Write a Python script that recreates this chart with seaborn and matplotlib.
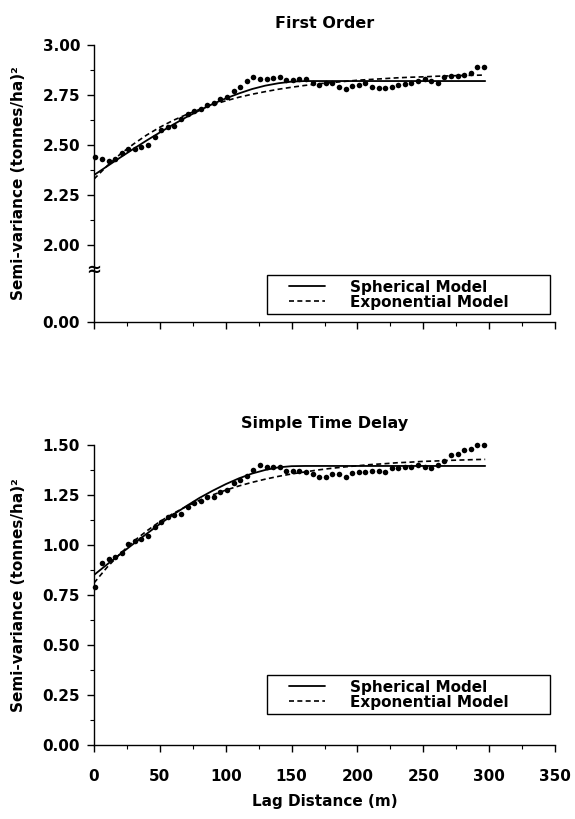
import matplotlib
matplotlib.use("Agg")
import matplotlib.pyplot as plt
from matplotlib.lines import Line2D
from matplotlib.legend_handler import HandlerLine2D
import matplotlib.transforms as mtransforms
import seaborn as sns

# lag distances of the experimental semi-variogram (m)
lag = [1, 6, 11, 16, 21, 26, 31, 36, 41, 46,
       51, 56, 61, 66, 71, 76, 81, 86, 91, 96,
       101, 106, 111, 116, 121, 126, 131, 136, 141, 146,
       151, 156, 161, 166, 171, 176, 181, 186, 191, 196,
       201, 206, 211, 216, 221, 226, 231, 236, 241, 246,
       251, 256, 261, 266, 271, 276, 281, 286, 291, 296]

# First Order - experimental semi-variance
first_order = [2.44, 2.43, 2.42, 2.43, 2.46, 2.48, 2.48, 2.49, 2.50, 2.54,
               2.575, 2.59, 2.595, 2.63, 2.655, 2.67, 2.68, 2.70, 2.71, 2.73,
               2.74, 2.77, 2.79, 2.82, 2.84, 2.83, 2.83, 2.835, 2.84, 2.825,
               2.825, 2.83, 2.83, 2.81, 2.80, 2.81, 2.81, 2.79, 2.78, 2.795,
               2.80, 2.81, 2.79, 2.785, 2.785, 2.79, 2.80, 2.805, 2.81, 2.82,
               2.83, 2.82, 2.81, 2.84, 2.845, 2.845, 2.85, 2.86, 2.89, 2.89]

# Simple Time Delay - experimental semi-variance
time_delay = [0.79, 0.91, 0.93, 0.94, 0.96, 1.005, 1.02, 1.03, 1.045, 1.09,
              1.115, 1.14, 1.15, 1.155, 1.19, 1.21, 1.22, 1.24, 1.24, 1.265,
              1.275, 1.31, 1.325, 1.345, 1.375, 1.40, 1.39, 1.39, 1.39, 1.37,
              1.37, 1.37, 1.365, 1.355, 1.342, 1.34, 1.355, 1.355, 1.342, 1.36,
              1.367, 1.367, 1.37, 1.37, 1.367, 1.383, 1.383, 1.39, 1.39, 1.40,
              1.39, 1.383, 1.40, 1.42, 1.45, 1.455, 1.475, 1.48, 1.50, 1.50]

# fitted model curves
model_lag = [0, 10, 20, 30, 40, 50, 60, 70, 80, 90,
             100, 110, 120, 130, 140, 150, 160, 170, 180, 190,
             200, 210, 220, 230, 240, 250, 260, 270, 280, 290, 297]
fo_spherical = [2.35, 2.394, 2.438, 2.481, 2.523, 2.563, 2.602, 2.639, 2.673, 2.705,
                2.733, 2.758, 2.780, 2.797, 2.809, 2.817, 2.82, 2.82, 2.82, 2.82,
                2.82, 2.82, 2.82, 2.82, 2.82, 2.82, 2.82, 2.82, 2.82, 2.82, 2.82]
fo_exponential = [2.33, 2.396, 2.455, 2.505, 2.550, 2.589, 2.623, 2.652, 2.678, 2.701,
                  2.721, 2.739, 2.754, 2.767, 2.779, 2.789, 2.798, 2.806, 2.812, 2.818,
                  2.824, 2.828, 2.832, 2.836, 2.839, 2.841, 2.844, 2.846, 2.848, 2.849, 2.850]
td_spherical = [0.85, 0.903, 0.955, 1.006, 1.056, 1.105, 1.151, 1.194, 1.235, 1.271,
                1.304, 1.333, 1.357, 1.375, 1.388, 1.394, 1.395, 1.395, 1.395, 1.395,
                1.395, 1.395, 1.395, 1.395, 1.395, 1.395, 1.395, 1.395, 1.395, 1.395, 1.395]
td_exponential = [0.81, 0.889, 0.957, 1.018, 1.070, 1.117, 1.157, 1.192, 1.223, 1.250,
                  1.274, 1.295, 1.313, 1.329, 1.343, 1.355, 1.365, 1.375, 1.383, 1.390,
                  1.396, 1.402, 1.406, 1.411, 1.414, 1.418, 1.420, 1.423, 1.425, 1.427, 1.428]

x_ticks = [0, 50, 100, 150, 200, 250, 300, 350]
x_minor = [25, 75, 125, 175, 225, 275, 325]
top_ticks = [2.00, 2.25, 2.50, 2.75, 3.00]
top_minor = [2.125, 2.375, 2.625, 2.875]
top_zero = 1.615      # where the "0.00" of the broken axis sits
top_break = 1.875
bot_ticks = [0.00, 0.25, 0.50, 0.75, 1.00, 1.25, 1.50]
bot_minor = [0.125, 0.375, 0.625, 0.875, 1.125, 1.375]

sns.set_theme(style="ticks")
plt.rcParams["font.family"] = ["DejaVu Sans"]
plt.rcParams.update({
    "font.weight": "bold",
    "axes.edgecolor": "black",
    "axes.labelcolor": "black",
    "text.color": "black",
    "xtick.color": "black",
    "ytick.color": "black",
    "axes.linewidth": 1.0,
})

fig = plt.figure(figsize=(5.75, 8.19), dpi=100)
ax_top = fig.add_axes([0.1635, 0.6068, 0.8017, 0.3382])
ax_bot = fig.add_axes([0.1635, 0.0904, 0.8017, 0.3663])

dash = (0, (3, 2))


def draw_panel(ax, obs, sph, expo, title):
    sns.scatterplot(x=lag, y=obs, ax=ax, color="black", s=16, linewidth=0,
                    legend=False, clip_on=False, zorder=3)
    sns.lineplot(x=model_lag, y=sph, ax=ax, color="black", linewidth=1.3,
                 label="Spherical Model")
    sns.lineplot(x=model_lag, y=expo, ax=ax, color="black", linewidth=1.2,
                 linestyle=dash, label="Exponential Model")
    ax.set_xlim(0, 350)
    ax.set_xticks(x_ticks)
    ax.set_xticks(x_minor, minor=True)
    ax.set_title(title, fontsize=11.5, fontweight="bold", pad=12)
    ax.set_ylabel("Semi-variance (tonnes/ha)²", fontsize=11, fontweight="bold")
    ax.yaxis.set_label_coords(-0.148, 0.5)
    ax.tick_params(axis="both", which="major", length=5, width=1.0, labelsize=11)
    ax.tick_params(axis="both", which="minor", length=3, width=0.8)
    ax.tick_params(axis="y", pad=5)
    ax.tick_params(axis="x", pad=12)
    for lab in ax.get_xticklabels() + ax.get_yticklabels():
        lab.set_fontweight("bold")
    sns.despine(ax=ax)


def add_legend(ax, anchor):
    handles, labels = ax.get_legend_handles_labels()
    leg = ax.legend(handles, labels, loc="upper left", bbox_to_anchor=anchor,
                    mode="expand", frameon=True, fancybox=False,
                    framealpha=1, edgecolor="black", borderpad=0.3,
                    borderaxespad=0, handlelength=4.6, handletextpad=0.5,
                    labelspacing=0.0,
                    handler_map={Line2D: HandlerLine2D(marker_pad=1.1, numpoints=2)},
                    prop={"weight": "bold", "size": 11})
    leg.get_frame().set_linewidth(1.0)


draw_panel(ax_top, first_order, fo_spherical, fo_exponential, "First Order")
ax_top.set_ylim(top_zero, 3.0)
ax_top.set_yticks([top_zero] + top_ticks)
ax_top.set_yticklabels(["0.00"] + [f"{t:.2f}" for t in top_ticks], fontweight="bold")
ax_top.set_yticks(top_minor, minor=True)
ax_top.tick_params(axis="x", labelbottom=False)
ax_top.set_xlabel("")
# axis-break symbol on the left spine
trans = mtransforms.blended_transform_factory(ax_top.transAxes, ax_top.transData)
ax_top.text(0, top_break, "≈", transform=trans, ha="center", va="center",
            fontsize=13, fontweight="bold", clip_on=False, zorder=5)
add_legend(ax_top, (0.376, 0.07, 0.613, 0.1))

draw_panel(ax_bot, time_delay, td_spherical, td_exponential, "Simple Time Delay")
ax_bot.set_ylim(0, 1.5)
ax_bot.set_yticks(bot_ticks)
ax_bot.set_yticklabels([f"{t:.2f}" for t in bot_ticks], fontweight="bold")
ax_bot.set_yticks(bot_minor, minor=True)
ax_bot.set_xlabel("Lag Distance (m)", fontsize=11, fontweight="bold")
ax_bot.xaxis.set_label_coords(0.5, -0.165)
add_legend(ax_bot, (0.376, 0.133, 0.613, 0.1))

fig.savefig("out.png", dpi=100)
